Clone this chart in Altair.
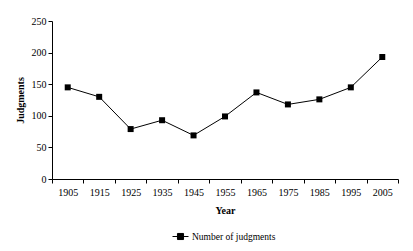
import altair as alt
import pandas as pd

years = ["1905", "1915", "1925", "1935", "1945", "1955", "1965", "1975", "1985", "1995", "2005"]
judgments = [145, 130, 79, 93, 69, 99, 137, 118, 126, 145, 193]
series = ["Number of judgments"] * len(years)

df = pd.DataFrame({"Year": years, "Judgments": judgments, "Series": series})

FONT = "Liberation Serif"

color = alt.Color(
    "Series:N",
    scale=alt.Scale(range=["black"]),
    legend=alt.Legend(
        title=None,
        orient="none",
        legendX=120,
        legendY=207,
        symbolType="M-1,0H1M-0.38,-0.38H0.38V0.38H-0.38Z",
        symbolSize=256,
        symbolStrokeWidth=1,
        symbolFillColor="black",
        symbolStrokeColor="black",
        labelFont=FONT,
        labelFontSize=9.5,
        labelColor="black",
        labelOffset=3,
    ),
)

x = alt.X(
    "Year:O",
    sort=years,
    scale=alt.Scale(paddingInner=0, paddingOuter=0),
    axis=alt.Axis(
        title="Year",
        titleFont=FONT,
        titleFontSize=10,
        titleFontWeight="bold",
        titleColor="black",
        titlePadding=8,
        labelFont=FONT,
        labelFontSize=10,
        labelColor="black",
        labelAngle=0,
        labelPadding=4,
        tickBand="extent",
        tickSize=4,
        tickColor="black",
        domainColor="black",
        grid=False,
    ),
)

y = alt.Y(
    "Judgments:Q",
    scale=alt.Scale(domain=[0, 250]),
    axis=alt.Axis(
        title="Judgments",
        values=[0, 50, 100, 150, 200, 250],
        titleFont=FONT,
        titleFontSize=10,
        titleFontWeight="bold",
        titleColor="black",
        titlePadding=6,
        labelFont=FONT,
        labelFontSize=10,
        labelColor="black",
        labelPadding=2,
        tickSize=4,
        tickColor="black",
        domainColor="black",
        grid=False,
    ),
)

line = alt.Chart(df).mark_line(strokeWidth=1, color="black").encode(x=x, y=y, color=color)
pts = alt.Chart(df).mark_square(size=36, opacity=1, color="black").encode(x=x, y=y, color=color)

chart = (
    alt.layer(line, pts)
    .properties(
        width=346,
        height=158,
        autosize=alt.AutoSizeParams(type="none"),
        padding={"left": 52, "top": 21, "right": 15, "bottom": 72},
        background="white",
    )
    .configure(
        font=FONT,
        view={"stroke": None},
        legend={"labelFont": FONT, "labelFontSize": 9.5, "labelColor": "black"},
        style={"guide-label": {"font": FONT}, "guide-title": {"font": FONT}},
    )
)

chart.save("out.html", embed_options={"renderer": "svg", "actions": False})
